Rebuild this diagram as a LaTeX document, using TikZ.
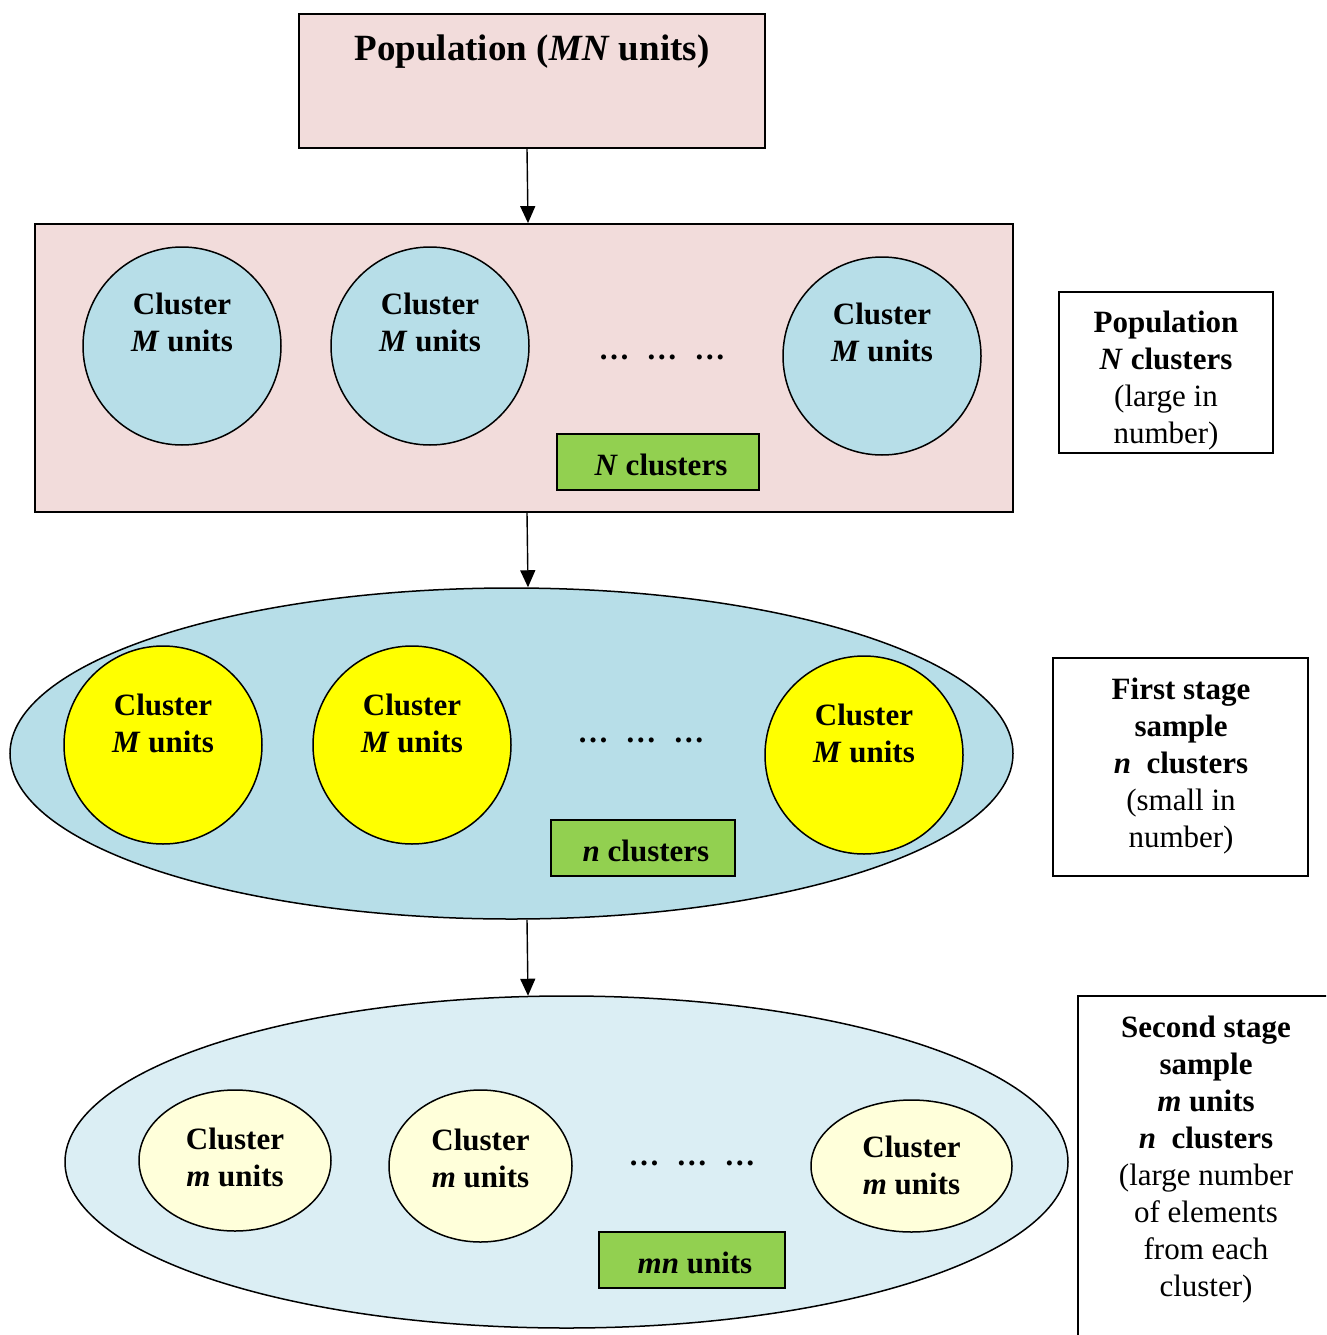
\documentclass[tikz,border=0pt]{standalone}
\usepackage{fontspec}
\setmainfont{Liberation Serif}
\usetikzlibrary{shapes.geometric,arrows.meta}
\definecolor{popPink}{HTML}{F2DCDB}
\definecolor{clusBlue}{HTML}{B7DEE8}
\definecolor{paleBlue}{HTML}{DBEEF4}
\definecolor{clusYellow}{HTML}{FFFF00}
\definecolor{clusCream}{HTML}{FFFFDA}
\definecolor{tagGreen}{HTML}{92D050}
\begin{document}
\begin{tikzpicture}[x=1pt,y=-1pt,
  txt/.style={font=\fontsize{31}{37}\selectfont\bfseries, align=center, inner sep=0pt},
  note/.style={font=\fontsize{31}{37}\selectfont, align=center, inner sep=0pt},
  frame/.style={draw=black, line width=1.8pt, rectangle, inner sep=0pt},
  clus/.style={draw=black, line width=1.5pt, circle, inner sep=0pt, minimum size=198pt},
  oval/.style={draw=black, line width=1.5pt, ellipse, inner sep=0pt},
  tag/.style={draw=black, line width=1.8pt, fill=tagGreen, rectangle, inner sep=0pt},
  tagtxt/.style={font=\fontsize{31}{37}\selectfont\bfseries, inner sep=0pt},
  dots/.style={font=\fontsize{31}{37}\selectfont\bfseries, inner sep=0pt},
  arr/.style={draw=black, line width=1.4pt, -{Triangle[length=17pt,width=15pt]}}]
\useasboundingbox (0,0) rectangle (1326,1335);
\clip (0,0) rectangle (1326,1335);
\fill[white] (0,0) rectangle (1326,1335);

% population of MN units
\node[frame, fill=popPink, minimum width=466pt, minimum height=134pt] (pop) at (532,81) {};
\node[font=\fontsize{37}{44}\selectfont\bfseries, inner sep=0pt] (poptxt) at (532,52)
  {Population (\textit{MN} units)};

% population split into N clusters
\node[frame, fill=popPink, minimum width=978pt, minimum height=288pt] (clusters) at (524,368) {};
\node[clus, fill=clusBlue] (c1) at (182,346) {};
\node[clus, fill=clusBlue] (c2) at (430,346) {};
\node[clus, fill=clusBlue] (c3) at (882,356) {};
\node[txt] (c1t) at (182,322) {Cluster\\\textit{M} units};
\node[txt] (c2t) at (430,322) {Cluster\\\textit{M} units};
\node[txt] (c3t) at (882,332) {Cluster\\\textit{M} units};
\node[dots] (d1) at (662,357) {…\hspace{17pt}…\hspace{17pt}…};
\node[tag, minimum width=202pt, minimum height=56pt] (g1) at (658,462) {};
\node[tagtxt] (g1t) at (661,465) {\textit{N} clusters};

% first stage sample
\node[oval, fill=clusBlue, minimum width=1003pt, minimum height=331pt] (s1) at (511.5,753.5) {};
\node[clus, fill=clusYellow] (y1) at (163,745) {};
\node[clus, fill=clusYellow] (y2) at (412,745) {};
\node[clus, fill=clusYellow] (y3) at (864,755) {};
\node[txt] (y1t) at (163,723) {Cluster\\\textit{M} units};
\node[txt] (y2t) at (412,723) {Cluster\\\textit{M} units};
\node[txt] (y3t) at (864,733) {Cluster\\\textit{M} units};
\node[dots] (d2) at (641,740) {…\hspace{17pt}…\hspace{17pt}…};
\node[tag, minimum width=184pt, minimum height=56pt] (g2) at (643,848) {};
\node[tagtxt] (g2t) at (646,851) {\textit{n} clusters};

% second stage sample
\node[oval, fill=paleBlue, minimum width=1003pt, minimum height=332pt] (s2) at (566.5,1162) {};
\node[oval, fill=clusCream, minimum width=192pt, minimum height=141pt] (e1) at (235,1160.5) {};
\node[oval, fill=clusCream, minimum width=183pt, minimum height=152pt] (e2) at (480.5,1166) {};
\node[oval, fill=clusCream, minimum width=201pt, minimum height=132pt] (e3) at (911.5,1166) {};
\node[txt] (e1t) at (235,1157) {Cluster\\\textit{m} units};
\node[txt] (e2t) at (480.5,1158.5) {Cluster\\\textit{m} units};
\node[txt] (e3t) at (911.5,1165.5) {Cluster\\\textit{m} units};
\node[dots] (d3) at (692,1163) {…\hspace{17pt}…\hspace{17pt}…};
\node[tag, minimum width=186pt, minimum height=56pt] (g3) at (692,1260) {};
\node[tagtxt] (g3t) at (695,1263) {\textit{mn} units};

% stage arrows
\draw[arr] ([xshift=-5pt]pop.south) -- ([xshift=4pt]clusters.north);
\draw[arr] ([xshift=3pt]clusters.south) -- ([xshift=16.5pt]s1.north);
\draw[arr] ([xshift=15.5pt]s1.south) -- ([xshift=-38.5pt,yshift=-0.5pt]s2.north);

% side notes
\node[note] (n1t) at (1166,381)
  {\textbf{Population}\\\textbf{\textit{N} clusters}\\(large in\\number)};
\node[frame, minimum width=214pt, minimum height=161pt] (n1) at (1166,372.5) {};

\node[note] (n2t) at (1181,766)
  {\textbf{First stage}\\\textbf{sample}\\\textbf{\textit{n}\ \ clusters}\\(small in\\number)};
\node[frame, minimum width=255pt, minimum height=218pt] (n2) at (1180.5,767) {};

\node[note] (n3t) at (1206,1160)
  {\textbf{Second stage}\\\textbf{sample}\\\textbf{\textit{m} units}\\\textbf{\textit{n}\ \ clusters}\\(large number\\of elements\\from each\\cluster)};
\node[frame, minimum width=270pt, minimum height=360pt] (n3) at (1213,1176) {};
\end{tikzpicture}
\end{document}
